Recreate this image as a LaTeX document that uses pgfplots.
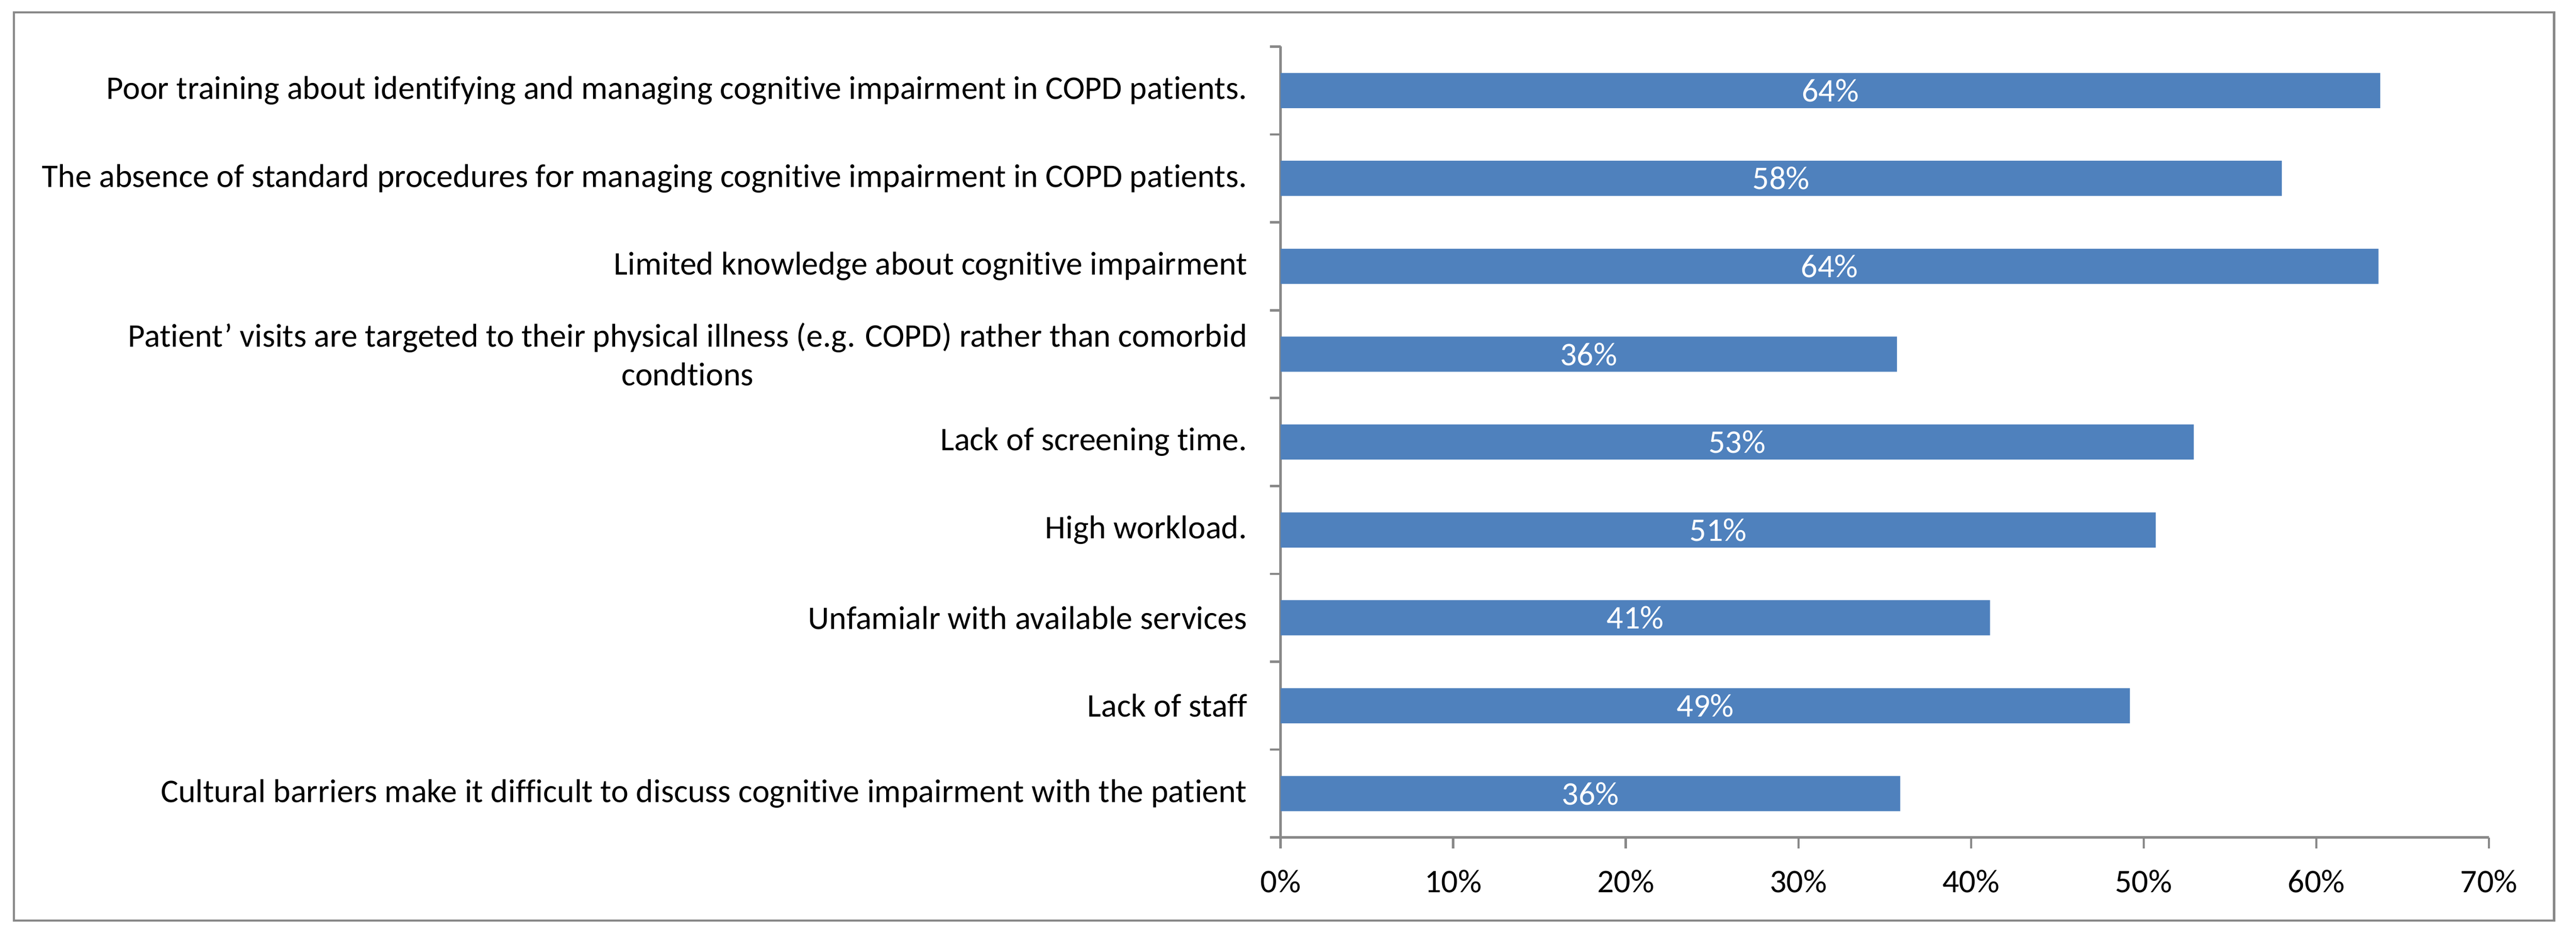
\documentclass[border=0pt]{standalone}
\usepackage{pgfplots}
\pgfplotsset{compat=1.18}
\usepackage{fontspec}
\setmainfont{Carlito}[Ligatures=NoCommon]
\definecolor{barblue}{HTML}{4F81BD}
\definecolor{axgray}{HTML}{898989}
\newcommand{\chartfont}{\fontsize{8.3bp}{9.7bp}\selectfont}
\begin{document}
\chartfont
\begin{tikzpicture}
  \path[use as bounding box] (0,0) rectangle (647.7bp,235.1bp);
  \draw[axgray, line width=0.6bp] (3.5bp,3.6bp) rectangle (642.2bp,232.0bp);
  \begin{axis}[
    at={(322.0bp,24.5bp)}, anchor=south west,
    scale only axis, width=303.8bp, height=198.9bp,
    xbar, bar width=0.4,
    xmin=0, xmax=70, ymin=-0.5, ymax=8.5, y dir=reverse,
    axis lines*=left, axis line style={axgray, line width=0.6bp},
    tick align=outside, major tick length=2.7bp,
    tick style={axgray, line width=0.6bp},
    xtick={0,10,...,70},
    xticklabel={\pgfmathprintnumber[assume math mode=true]{\tick}\%},
    xticklabel style={inner sep=0pt, anchor=north, font=\chartfont},
    xticklabel shift=5.2bp,
    ytick={-0.5,0.5,...,8.5},
    yticklabels={},
    extra y ticks={0,...,8},
    extra y tick labels={
      Poor training about identifying and managing cognitive impairment in COPD patients.,
      The absence of standard procedures for managing cognitive impairment in COPD patients.,
      Limited knowledge about cognitive impairment,
      {Patient’ visits are targeted to their physical illness (e.g. COPD) rather than comorbid\\condtions},
      Lack of screening time.,
      High workload.,
      Unfamialr with available services,
      Lack of staff,
      Cultural barriers make it difficult to discuss cognitive impairment with the patient},
    extra y tick style={major tick length=0pt, tick style={draw=none},
      yticklabel style={inner sep=0pt, anchor=east, align=center, xshift=-8.2bp,
        font=\chartfont}},
    clip=false,
    nodes near coords={\pgfmathprintnumber[fixed, precision=0, assume math mode=true]{\pgfplotspointmeta}\%},
    point meta=x,
    visualization depends on={rawx/2 \as \halfx},
    nodes near coords style={anchor=center, text=white, inner sep=0pt,
      font=\chartfont,
      shift={(axis direction cs:-\halfx,0)}},
  ]
  \addplot[fill=barblue, draw=none] coordinates {
    (63.7,0)
    (58.0,1)
    (63.6,2)
    (35.7,3)
    (52.9,4)
    (50.7,5)
    (41.1,6)
    (49.2,7)
    (35.9,8)
  };
  \end{axis}
\end{tikzpicture}
\end{document}
